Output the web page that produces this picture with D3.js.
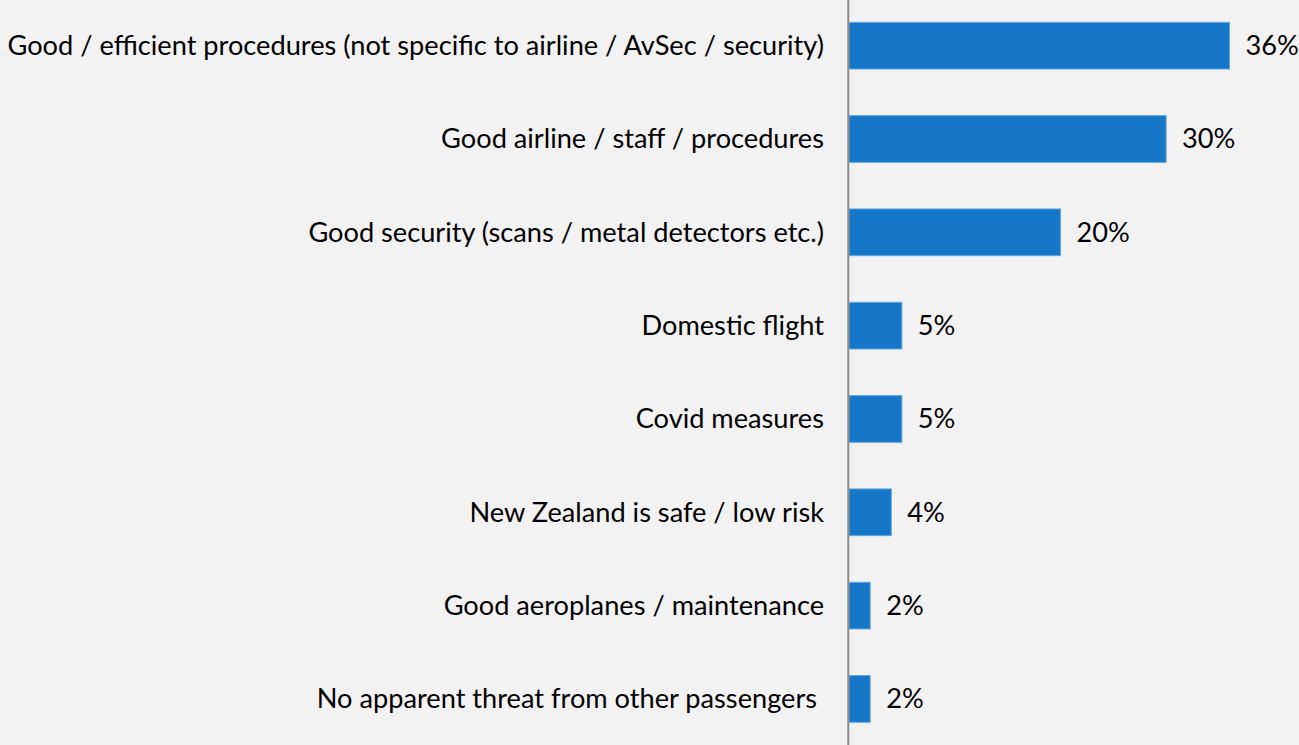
<!DOCTYPE html>
<html>
<head>
<meta charset="utf-8">
<script src="https://cdn.jsdelivr.net/npm/d3@7"></script>
<style>
  html, body { margin: 0; padding: 0; background: #f2f2f2; }
  svg { display: block; }
  text { font-family: Lato, "Open Sans", sans-serif; fill: #000; white-space: pre; }
</style>
</head>
<body>
<svg id="chart" width="1299" height="745"></svg>
<script>
// Reasons given for feeling safe, share of respondents (%)
const categories = [
  "Good / efficient procedures (not specific to airline / AvSec / security)",
  "Good airline / staff / procedures",
  "Good security (scans / metal detectors etc.)",
  "Domestic flight",
  "Covid measures",
  "New Zealand is safe / low risk",
  "Good aeroplanes / maintenance",
  "No apparent threat from other passengers "
];
const values = [36, 30, 20, 5, 5, 4, 2, 2];
const valueLabels = ["36%", "30%", "20%", "5%", "5%", "4%", "2%", "2%"];

const W = 1299, H = 745;
const fontSize = 27.2;
const svg = d3.select("#chart");

svg.append("rect").attr("width", W).attr("height", H).attr("fill", "#f2f2f2");

const x = d3.scaleLinear().domain([0, 36]).range([849, 1229.5]);
const y = d3.scaleBand().domain(categories).range([-1, 745.6])
  .paddingInner(0.5).paddingOuter(0.25);

// bars
svg.append("g").selectAll("rect").data(values).join("rect")
  .attr("x", x(0))
  .attr("y", (d, i) => y(categories[i]))
  .attr("width", d => x(d) - x(0))
  .attr("height", y.bandwidth())
  .attr("fill", "#1677c8")
  .attr("stroke", "#5da3df")
  .attr("stroke-width", 1);

// category axis on the left of the bars
const yAxis = d3.axisLeft(y).tickSize(0).tickPadding(25);
const gy = svg.append("g").attr("transform", `translate(${x(0)},0)`).call(yAxis);
gy.select(".domain").remove();
gy.selectAll("text")
  .attr("font-size", fontSize)
  .attr("font-family", null)
  .attr("dy", "0.34em");

// vertical baseline
svg.append("line")
  .attr("x1", 848.3).attr("x2", 848.3)
  .attr("y1", 0).attr("y2", H)
  .attr("stroke", "#8c8c8c").attr("stroke-width", 2);

// value labels
svg.append("g").selectAll("text").data(values).join("text")
  .attr("x", d => x(d) + 16)
  .attr("y", (d, i) => y(categories[i]) + y.bandwidth() / 2)
  .attr("dy", "0.34em")
  .attr("font-size", fontSize)
  .text((d, i) => valueLabels[i]);
</script>
</body>
</html>
